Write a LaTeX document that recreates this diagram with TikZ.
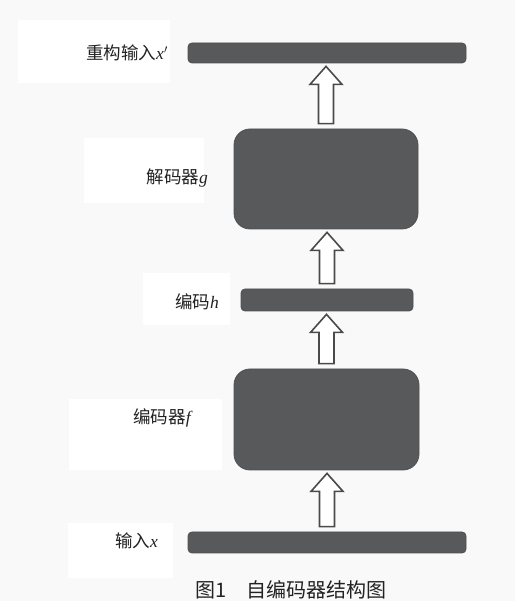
\documentclass[tikz,border=0pt]{standalone}
\usepackage{fontspec}
\setmainfont{Liberation Serif}
\newfontfamily\cjk{Noto Sans CJK SC}
\usetikzlibrary{calc}

\definecolor{pagebg}{HTML}{F9F9F9}
\definecolor{blockfill}{HTML}{58595B}
\definecolor{blockline}{HTML}{4E4F51}
\definecolor{arrowline}{HTML}{4A4A4A}
\definecolor{textcol}{HTML}{222222}

\tikzset{
  bar/.style={draw=blockline, line width=0.8pt, fill=blockfill,
    rounded corners=4pt, inner sep=0pt},
  block/.style={draw=blockline, line width=0.8pt, fill=blockfill,
    rounded corners=16pt, inner sep=0pt},
  lbl/.style={anchor=east, inner sep=0pt, text=textcol, font=\fontsize{17.5}{19}\selectfont},
  labelbg/.style={fill=white, draw=none},
  hollow/.style={draw=arrowline, fill=white, line width=1.6pt, line join=miter},
}

% hollow up arrow from the top of #1 to the bottom of #2
\newcommand\hollowup[2]{%
  \draw[hollow] let \p1=($(#1.north)+(0,5)$), \p2=($(#2.south)+(0,-3)$) in
    (\x1-7.5pt,\y1) -- (\x1-7.5pt,\y2-18pt) -- (\x1-16pt,\y2-18pt) --
    (\x1,\y2) -- (\x1+16pt,\y2-18pt) -- (\x1+7.5pt,\y2-18pt) --
    (\x1+7.5pt,\y1) -- cycle;}

\begin{document}
\begin{tikzpicture}[x=1pt,y=1pt]
  \useasboundingbox (0,0) rectangle (515,601);
  \fill[pagebg] (0,0) rectangle (515,601);

  % white panels behind the labels
  \fill[labelbg] (18,518) rectangle (170,581);
  \fill[labelbg] (84,398) rectangle (204,463);
  \fill[labelbg] (143,276) rectangle (230,328);
  \fill[labelbg] (69,131) rectangle (222,202);
  \fill[labelbg] (68,23) rectangle (173,78);

  % layers
  \node[bar, minimum width=278pt, minimum height=20pt] (recon) at (327,548) {};
  \node[block, minimum width=184pt, minimum height=100pt] (dec) at (326,422) {};
  \node[bar, minimum width=172pt, minimum height=22pt] (code) at (327,301) {};
  \node[block, minimum width=185pt, minimum height=101pt] (enc) at (326.5,181.5) {};
  \node[bar, minimum width=278pt, minimum height=21pt] (input) at (327,58.5) {};

  % labels
  \node[lbl] (lrecon) at (168,548) {{\cjk 重构输入}\textit{x}$'$};
  \node[lbl] (ldec) at (208,423) {{\cjk 解码器}\textit{g}};
  \node[lbl] (lcode) at (219,299) {{\cjk 编码}\textit{h}};
  \node[lbl] (lenc) at (193,183) {{\cjk 编码器}\textit{f}};
  \node[lbl] (linput) at (158,60) {{\cjk 输入}\textit{x}};

  % data flow
  \hollowup{input}{enc}
  \hollowup{enc}{code}
  \hollowup{code}{dec}
  \hollowup{dec}{recon}

  % caption
  \node[anchor=base, inner sep=0pt, text=textcol, font=\fontsize{20}{22}\selectfont\cjk]
    (caption) at (291,3.5) {图1\hspace{1em}自编码器结构图};
\end{tikzpicture}
\end{document}
